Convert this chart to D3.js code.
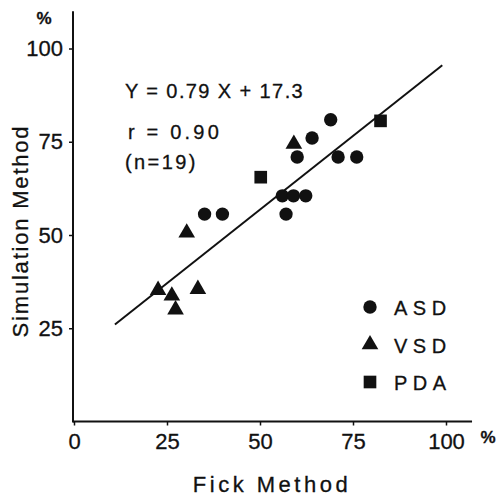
<!DOCTYPE html>
<html>
<head>
<meta charset="utf-8">
<script src="https://cdn.jsdelivr.net/npm/d3@7"></script>
<style>
  body { margin: 0; background: #fff; }
  svg text { font-family: "Liberation Sans", Arial, sans-serif; fill: #111; stroke: #111; stroke-width: 0.3; }
</style>
</head>
<body>
<div id="chart"></div>
<script>
// Fick method (x) vs simulation method (y)
const asdFick = [69, 64, 60, 71, 76, 56, 59, 62.3, 57, 35.1, 39.9];
const asdSim  = [80.9, 76, 70.9, 70.9, 70.9, 60.5, 60.5, 60.5, 55.6, 55.6, 55.6];
const vsdFick = [59.1, 30.3, 22.6, 26.3, 27.3, 33.3];
const vsdSim  = [74.4, 50.6, 35.2, 33.7, 30, 35.5];
const pdaFick = [82.4, 50.2];
const pdaSim  = [80.6, 65.5];

const tickValues = [0, 25, 50, 75, 100];
const legendLabels = ["ASD", "VSD", "PDA"];
const fitLine = { slope: 0.79, intercept: 17.3, from: 11, to: 99 };

const width = 497, height = 499;

const svg = d3.select("#chart").append("svg")
    .attr("width", width)
    .attr("height", height);

// scales
const x = d3.scaleLinear().domain([0, 100]).range([74, 446]);
const y = d3.scaleLinear().domain([0, 100]).range([421.5, 48.5]);

// axis lines (longer than the tick range)
svg.append("line")
    .attr("x1", x(0) - 1).attr("x2", x(107))
    .attr("y1", y(0)).attr("y2", y(0))
    .attr("stroke", "#111").attr("stroke-width", 2);
svg.append("line")
    .attr("x1", x(0) - 1).attr("x2", x(0) - 1)
    .attr("y1", y(0) + 1).attr("y2", y(110))
    .attr("stroke", "#111").attr("stroke-width", 2);

// x axis
const xAxis = svg.append("g")
    .attr("transform", `translate(0,${y(0)})`)
    .call(d3.axisBottom(x).tickValues(tickValues).tickSize(4).tickPadding(8));
xAxis.select(".domain").remove();
xAxis.selectAll("line").attr("stroke", "#111").attr("stroke-width", 1.5);
xAxis.selectAll("text").attr("font-size", 22).style("font-family", "Liberation Sans, Arial, sans-serif");

// y axis
const yAxis = svg.append("g")
    .attr("transform", `translate(${x(0) - 1},0)`)
    .call(d3.axisLeft(y).tickValues(tickValues.slice(1)).tickSize(4).tickPadding(6));
yAxis.select(".domain").remove();
yAxis.selectAll("line").attr("stroke", "#111").attr("stroke-width", 1.5);
yAxis.selectAll("text").attr("font-size", 22).style("font-family", "Liberation Sans, Arial, sans-serif");

// percent signs
svg.append("text").attr("x", 44).attr("y", 24)
    .attr("text-anchor", "middle").attr("font-size", 17).attr("font-weight", "bold").text("%");
svg.append("text").attr("x", 488).attr("y", 443)
    .attr("text-anchor", "middle").attr("font-size", 17).attr("font-weight", "bold").text("%");

// axis titles
svg.append("text")
    .attr("transform", `translate(28,${y(50) - 4}) rotate(-90)`)
    .attr("text-anchor", "middle")
    .attr("font-size", 22)
    .attr("letter-spacing", 1.8)
    .text("Simulation Method");

svg.append("text")
    .attr("x", 272).attr("y", 492)
    .attr("text-anchor", "middle")
    .attr("font-size", 22)
    .attr("letter-spacing", 3.5)
    .text("Fick Method");

// regression line
svg.append("line")
    .attr("x1", x(fitLine.from))
    .attr("y1", y(fitLine.slope * fitLine.from + fitLine.intercept))
    .attr("x2", x(fitLine.to))
    .attr("y2", y(fitLine.slope * fitLine.to + fitLine.intercept))
    .attr("stroke", "#111").attr("stroke-width", 2);

// annotation
const notes = ["Y = 0.79 X + 17.3", "r = 0.90", "(n=19)"];
const noteY = [98, 139, 169];
const noteX = [125, 128, 125];
const noteSpacing = [1.4, 3.2, 2.4];
svg.selectAll(".note")
    .data(notes)
    .enter()
    .append("text")
    .attr("class", "note")
    .attr("x", (d, i) => noteX[i])
    .attr("y", (d, i) => noteY[i])
    .attr("font-size", 20)
    .attr("letter-spacing", (d, i) => noteSpacing[i])
    .text(d => d);

// markers
const sym = {
    ASD: d3.symbol().type(d3.symbolCircle).size(140),
    VSD: d3.symbol().type(d3.symbolTriangle).size(120),
    PDA: d3.symbol().type(d3.symbolSquare).size(160)
};

function drawSeries(xs, ys, key) {
    svg.selectAll(".pt-" + key)
        .data(xs.map((v, i) => ({ fx: v, sy: ys[i] })))
        .enter()
        .append("path")
        .attr("class", "pt-" + key)
        .attr("d", sym[key])
        .attr("transform", d => `translate(${x(d.fx)},${y(d.sy)})`)
        .attr("fill", "#111");
}
drawSeries(asdFick, asdSim, "ASD");
drawSeries(vsdFick, vsdSim, "VSD");
drawSeries(pdaFick, pdaSim, "PDA");

// legend
const legend = svg.selectAll(".legend")
    .data(legendLabels)
    .enter()
    .append("g")
    .attr("class", "legend")
    .attr("transform", (d, i) => `translate(370,${307 + i * 37.5})`);

legend.append("path")
    .attr("d", d => sym[d]())
    .attr("fill", "#111");

legend.append("text")
    .attr("x", 24)
    .attr("y", 8)
    .attr("font-size", 20)
    .attr("letter-spacing", 5.5)
    .text(d => d);
</script>
</body>
</html>
